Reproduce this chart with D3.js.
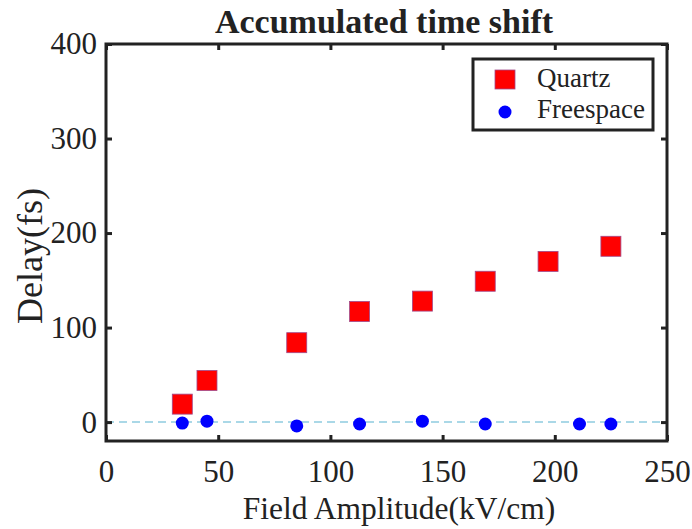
<!DOCTYPE html>
<html><head><meta charset="utf-8">
<script src="https://cdn.jsdelivr.net/npm/d3@7"></script>
<style>body{margin:0;background:#fff}svg{display:block}text{font-family:"Liberation Serif","Times New Roman",serif;fill:#222}.tick text{font-size:31px}</style>
</head><body>
<script>
const quartzX = [34, 45, 85, 113, 141, 169, 197, 225];
const quartzY = [19, 44, 84, 117, 128, 149, 170, 186];
const freeX = [34, 45, 85, 113, 141, 169, 211, 225];
const freeY = [-1, 1, -4, -2, 1, -2, -2, -2];
const xTicks = [0, 50, 100, 150, 200, 250];
const yTicks = [0, 100, 200, 300, 400];
const seriesNames = ["Quartz", "Freespace"];

const W = 692, H = 529;
const m = {l: 106, r: 25, t: 44, b: 88};
const svg = d3.select("body").append("svg").attr("width", W).attr("height", H);
const x = d3.scaleLinear().domain([0, 250]).range([m.l, W - m.r]);
const y = d3.scaleLinear().domain([-20, 400]).range([H - m.b, m.t]);

// zero dashed line
svg.append("line").attr("x1", x(0)).attr("x2", x(250)).attr("y1", y(0)).attr("y2", y(0))
  .attr("stroke", "#8fcbe0").attr("stroke-width", 1.5).attr("stroke-dasharray", "8,5");

// axes
const tickLen = 6;
const gB = svg.append("g").attr("transform", `translate(0,${y(-20)})`)
  .call(d3.axisBottom(x).tickValues(xTicks).tickSize(-tickLen).tickPadding(19).tickFormat(d3.format("d")));
const gT = svg.append("g").attr("transform", `translate(0,${y(400)})`)
  .call(d3.axisTop(x).tickValues(xTicks).tickSize(-tickLen).tickFormat(""));
const gL = svg.append("g").attr("transform", `translate(${x(0)},0)`)
  .call(d3.axisLeft(y).tickValues(yTicks).tickSize(-tickLen).tickPadding(9).tickFormat(d3.format("d")));
const gR = svg.append("g").attr("transform", `translate(${x(250)},0)`)
  .call(d3.axisRight(y).tickValues(yTicks).tickSize(-tickLen).tickFormat(""));
[gB, gT, gL, gR].forEach(g => {
  g.attr("font-size", 31).attr("font-family", '"Liberation Serif",serif');
  g.select(".domain").remove();
  g.selectAll(".tick line").attr("stroke", "#222").attr("stroke-width", 3);
  g.selectAll(".tick text").attr("font-size", 31).style("font-size", "31px").attr("fill", "#222");
});
svg.append("rect").attr("x", x(0)).attr("y", y(400)).attr("width", x(250) - x(0)).attr("height", y(-20) - y(400))
  .attr("fill", "none").attr("stroke", "#222").attr("stroke-width", 3);

// data
const sq = 20;
svg.append("g").selectAll("rect").data(quartzX.map((d, i) => [d, quartzY[i]])).join("rect")
  .attr("x", d => x(d[0]) - sq / 2).attr("y", d => y(d[1]) - sq / 2).attr("width", sq).attr("height", sq)
  .attr("fill", "#ff0000").attr("stroke", "#a04a8a").attr("stroke-width", 0.8);
svg.append("g").selectAll("circle").data(freeX.map((d, i) => [d, freeY[i]])).join("circle")
  .attr("cx", d => x(d[0])).attr("cy", d => y(d[1])).attr("r", 6.5)
  .attr("fill", "#0000ff");

// title & labels
svg.append("text").attr("x", 384).attr("y", 33).attr("text-anchor", "middle")
  .style("font-size", "34px").attr("font-weight", "bold").attr("fill", "#000").text("Accumulated time shift");
svg.append("text").attr("x", 399).attr("y", 519).attr("text-anchor", "middle")
  .style("font-size", "31.5px").text("Field Amplitude(kV/cm)");
svg.append("text").attr("transform", `translate(42,256) rotate(-90)`).attr("text-anchor", "middle")
  .style("font-size", "36px").text("Delay(fs)");

// legend
const lg = svg.append("g");
lg.append("rect").attr("x", 473).attr("y", 59).attr("width", 180).attr("height", 71)
  .attr("fill", "#fff").attr("stroke", "#222").attr("stroke-width", 3);
lg.append("rect").attr("x", 495).attr("y", 70).attr("width", 20).attr("height", 19)
  .attr("fill", "#ff0000").attr("stroke", "#a04a8a").attr("stroke-width", 0.8);
lg.append("circle").attr("cx", 505).attr("cy", 112).attr("r", 6.5).attr("fill", "#0000ff");
lg.append("text").attr("x", 537).attr("y", 87).style("font-size", "27px").attr("fill", "#000").text(seriesNames[0]);
lg.append("text").attr("x", 537).attr("y", 118).style("font-size", "27px").attr("fill", "#000").text(seriesNames[1]);
</script>
</body></html>
